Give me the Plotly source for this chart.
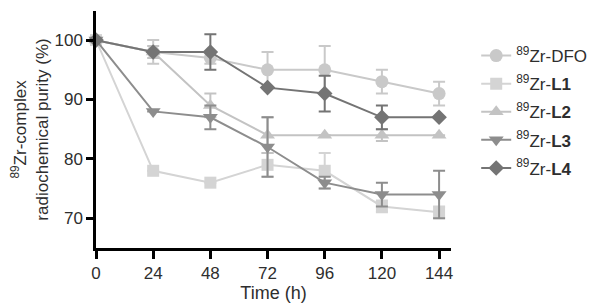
import plotly.graph_objects as go

time_h = [0, 24, 48, 72, 96, 120, 144]

dfo = [100, 98, 97, 95, 95, 93, 91]
dfo_err = [0, 2, 1, 3, 4, 2, 2]
l1 = [100, 78, 76, 79, 78, 72, 71]
l1_err = [0, 0, 0, 2, 3, 1, 1]
l2 = [100, 98, 89, 84, 84, 84, 84]
l2_err = [0, 1, 2, 3, 0, 1, 0]
l3 = [100, 88, 87, 82, 76, 74, 74]
l3_err = [0, 0, 2, 5, 1, 2, 4]
l4 = [100, 98, 98, 92, 91, 87, 87]
l4_err = [0, 0, 3, 0, 3, 2, 0]

names = ["<sup>89</sup>Zr-DFO", "<sup>89</sup>Zr-<b>L1</b>", "<sup>89</sup>Zr-<b>L2</b>",
         "<sup>89</sup>Zr-<b>L3</b>", "<sup>89</sup>Zr-<b>L4</b>"]
series = [dfo, l1, l2, l3, l4]
errors = [dfo_err, l1_err, l2_err, l3_err, l4_err]
colors = ["#c9c9c9", "#d4d4d4", "#c3c3c3", "#8d8d8d", "#747474"]
symbols = ["circle", "square", "triangle-up", "triangle-down", "diamond"]
sizes = [13, 12, 13, 13, 12]

fig = go.Figure()
for i in range(5):
    fig.add_trace(go.Scatter(
        x=time_h, y=series[i], name=names[i], mode="lines+markers",
        legendgroup=f"g{i}",
        line=dict(color=colors[i], width=2),
        marker=dict(symbol=symbols[i], size=sizes[i], color=colors[i]),
        error_y=dict(type="data", array=errors[i], color=colors[i], thickness=2, width=6),
        cliponaxis=False,
    ))

font = "Liberation Sans, Arial, sans-serif"
txt = "#2e2e2e"
fig.update_layout(
    width=600, height=305,
    margin=dict(l=88, r=157, t=3, b=65),
    paper_bgcolor="white", plot_bgcolor="white",
    font=dict(family=font, size=17, color=txt),
    showlegend=True,
    legend=dict(x=1.071, y=0.886, xanchor="left", yanchor="top", itemwidth=30,
                font=dict(size=17, color=txt), tracegroupgap=3,
                bgcolor="rgba(0,0,0,0)"),
    xaxis=dict(range=[0, 149], tickvals=time_h, ticks="outside", ticklen=8, tickwidth=2.5,
               tickcolor="black",
               showline=True, linecolor="black", linewidth=2.5, showgrid=False, zeroline=False,
               tickfont=dict(size=17, color=txt),
               title=dict(text="Time (h)", font=dict(size=18, color=txt), standoff=2)),
    yaxis=dict(range=[65, 104.9], tickvals=[70, 80, 90, 100], ticks="outside", ticklen=7, tickwidth=2.5,
               tickcolor="black",
               showline=True, linecolor="black", linewidth=2.5, showgrid=False, zeroline=False,
               tickfont=dict(size=17, color=txt),
               title=dict(text="<sup>89</sup>Zr-complex<br>radiochemical purity (%)",
                          font=dict(size=17, color=txt), standoff=4)),
)

fig.write_html("out.html")
